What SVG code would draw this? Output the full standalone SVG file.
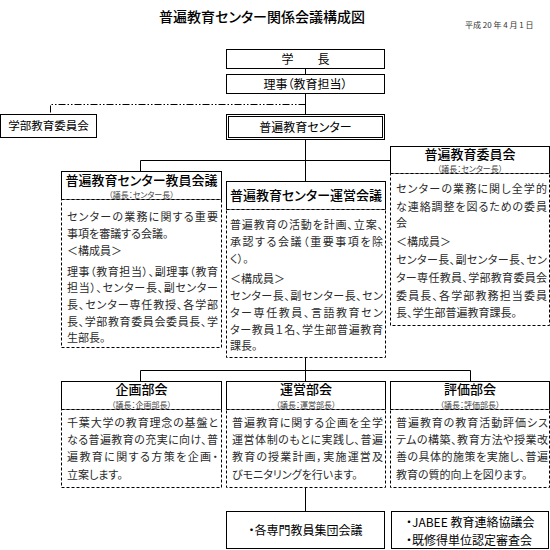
<svg xmlns="http://www.w3.org/2000/svg" width="550" height="550" viewBox="0 0 550 550">
<style>
text{font-family:"Noto Sans CJK JP","Noto Sans CJK SC",sans-serif;font-feature-settings:"palt";fill:#222}
.ttl{font-size:14px;font-weight:500;text-anchor:middle;fill:#000}
.date{font-size:8px;fill:#333}
.bt{font-size:12px;text-anchor:middle;fill:#000}
.bl{font-size:12px;fill:#000}
.ht{font-size:13px;font-weight:500;text-anchor:middle;fill:#000}
.hb{font-size:13px;font-weight:500;text-anchor:middle;fill:#000}
.sub{font-size:8px;text-anchor:middle;fill:#444}
.b{font-size:11px;fill:#2a2a2a}
.box{fill:#fff;stroke:#000;stroke-width:1}
.dash{fill:#fff;stroke:#000;stroke-width:1;stroke-dasharray:3 2}
.ln{fill:none;stroke:#000;stroke-width:1}
.dd{fill:none;stroke:#000;stroke-width:1;stroke-dasharray:7 2 1.5 2 1.5 2}
</style>
<text class="ttl" x="262" y="22">普遍教育センター関係会議構成図</text>
<text class="date" x="465" y="28">平成 20 年 4 月 1 日</text>
<g id="connectors">
<line class="ln" x1="305.5" y1="68" x2="305.5" y2="74"/>
<line class="ln" x1="305.5" y1="93" x2="305.5" y2="114"/>
<path class="dd" d="M305.5,104.5 H50.5 V114"/>
<line class="ln" x1="305.5" y1="140" x2="305.5" y2="181"/>
<path class="ln" d="M140.5,171 V160.5 H390"/>
<line class="ln" x1="305.5" y1="358" x2="305.5" y2="381"/>
<path class="ln" d="M140.5,381 V370.5 H470.5 V381"/>
<line class="ln" x1="305.5" y1="488" x2="305.5" y2="511"/>
</g>
<g id="gakucho">
<rect class="box" x="226.5" y="49.5" width="158" height="19"/>
<text class="bt" x="305.5" y="63.5">学　　長</text>
</g>
<g id="riji">
<rect class="box" x="226.5" y="74.5" width="158" height="19"/>
<text class="bt" x="305.5" y="88.5">理事（教育担当）</text>
</g>
<g id="gakubu">
<rect class="box" x="0.5" y="114.5" width="96" height="23"/>
<text class="bt" x="48.5" y="130" style="font-size:11.5px">学部教育委員会</text>
</g>
<g id="center">
<rect class="box" x="226.5" y="114.5" width="158" height="25"/>
<rect class="ln" x="228.5" y="116.5" width="154" height="21"/>
<text class="bt" x="305.5" y="131.5">普遍教育センター</text>
</g>
<g id="kyoinkaigi">
<rect class="box" x="61.5" y="171.5" width="160" height="28"/>
<text class="ht" x="141.5" y="184.5">普遍教育センター教員会議</text>
<text class="sub" x="141.5" y="198">（議長：センター長）</text>
<rect class="dash" x="61.5" y="199.5" width="160" height="148"/>
<text class="b" x="67" y="221" textLength="151">センターの業務に関する重要</text>
<text class="b" x="67" y="238">事項を審議する会議。</text>
<text class="b" x="67" y="255">＜構成員＞</text>
<text class="b" x="67" y="276" textLength="151">理事（教育担当）、副理事（教育</text>
<text class="b" x="67" y="292" textLength="151">担当）、センター長、副センター</text>
<text class="b" x="67" y="309" textLength="151">長、センター専任教授、各学部</text>
<text class="b" x="67" y="326" textLength="151">長、学部教育委員会委員長、学</text>
<text class="b" x="67" y="342">生部長。</text>
</g>
<g id="uneikaigi">
<rect class="box" x="226.5" y="181.5" width="159" height="28"/>
<text class="ht" x="306" y="200">普遍教育センター運営会議</text>
<rect class="dash" x="226.5" y="209.5" width="159" height="148"/>
<text class="b" x="230" y="229" textLength="153">普遍教育の活動を計画、立案、</text>
<text class="b" x="230" y="246" textLength="153">承認する会議（重要事項を除</text>
<text class="b" x="230" y="263">く）。</text>
<text class="b" x="230" y="283">＜構成員＞</text>
<text class="b" x="230" y="300" textLength="153">センター長、副センター長、セン</text>
<text class="b" x="230" y="317" textLength="153">ター専任教員、言語教育セン</text>
<text class="b" x="230" y="334" textLength="153">ター教員１名、学生部普遍教育</text>
<text class="b" x="230" y="350">課長。</text>
</g>
<g id="iinkai">
<rect class="box" x="390.5" y="146.5" width="159" height="27"/>
<text class="ht" x="470" y="158.5">普遍教育委員会</text>
<text class="sub" x="470" y="172">（議長：センター長）</text>
<rect class="dash" x="390.5" y="173.5" width="159" height="152"/>
<text class="b" x="396" y="193" textLength="151">センターの業務に関し全学的</text>
<text class="b" x="396" y="211" textLength="151">な連絡調整を図るための委員</text>
<text class="b" x="396" y="227">会</text>
<text class="b" x="396" y="246">＜構成員＞</text>
<text class="b" x="396" y="264" textLength="151">センター長、副センター長、セン</text>
<text class="b" x="396" y="282" textLength="151">ター専任教員、学部教育委員会</text>
<text class="b" x="396" y="300" textLength="151">委員長、各学部教務担当委員</text>
<text class="b" x="396" y="317">長、学生部普遍教育課長。</text>
</g>
<g id="kikaku">
<rect class="box" x="61.5" y="381.5" width="160" height="28"/>
<text class="hb" x="141.5" y="394">企画部会</text>
<text class="sub" x="141.5" y="407.5">（議長：企画部長）</text>
<rect class="dash" x="61.5" y="409.5" width="160" height="78"/>
<text class="b" x="67" y="427" textLength="151">千葉大学の教育理念の基盤と</text>
<text class="b" x="67" y="444" textLength="151">なる普遍教育の充実に向け、普</text>
<text class="b" x="67" y="461" textLength="151">遍教育に関する方策を企画・</text>
<text class="b" x="67" y="479">立案します。</text>
</g>
<g id="unei">
<rect class="box" x="226.5" y="381.5" width="159" height="28"/>
<text class="hb" x="306" y="394">運営部会</text>
<text class="sub" x="306" y="407.5">（議長：運営部長）</text>
<rect class="dash" x="226.5" y="409.5" width="159" height="78"/>
<text class="b" x="232" y="427" textLength="151">普遍教育に関する企画を全学</text>
<text class="b" x="232" y="444" textLength="151">運営体制のもとに実践し、普遍</text>
<text class="b" x="232" y="461" textLength="151">教育の授業計画，実施運営及</text>
<text class="b" x="232" y="479">びモニタリングを行います。</text>
</g>
<g id="hyoka">
<rect class="box" x="390.5" y="381.5" width="159" height="28"/>
<text class="hb" x="470" y="394">評価部会</text>
<text class="sub" x="470" y="407.5">（議長：評価部長）</text>
<rect class="dash" x="390.5" y="409.5" width="159" height="78"/>
<text class="b" x="396" y="427" textLength="152">普遍教育の教育活動評価シス</text>
<text class="b" x="396" y="444" textLength="152">テムの構築、教育方法や授業改</text>
<text class="b" x="396" y="461" textLength="152">善の具体的施策を実施し、普遍</text>
<text class="b" x="396" y="479">教育の質的向上を図ります。</text>
</g>
<g id="senmon">
<rect class="box" x="226.5" y="511.5" width="158" height="37"/>
<text class="bt" x="305.5" y="534.5">・各専門教員集団会議</text>
</g>
<g id="jabee">
<rect class="box" x="391.5" y="511.5" width="157" height="37"/>
<text class="bl" x="406" y="527">・JABEE 教育連絡協議会</text>
<text class="bl" x="406" y="544.5">・既修得単位認定審査会</text>
</g>
</svg>
